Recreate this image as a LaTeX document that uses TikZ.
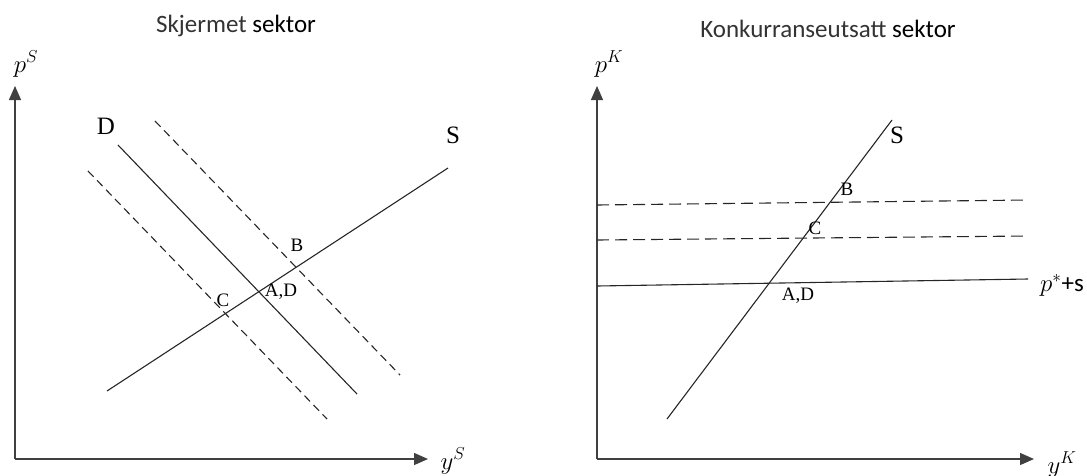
\documentclass[tikz,border=0pt]{standalone}
\usepackage{fontspec}
\setmainfont{Liberation Serif}
\newfontfamily\titlefont{Carlito}
\usetikzlibrary{arrows.meta,positioning}

\begin{document}
\begin{tikzpicture}[x=1pt,y=-1pt,
 axis/.style={line width=1.3pt,black!75,-{Triangle[length=14pt,width=12pt]}},
 curve/.style={line width=1.1pt,black!85},
 shifted/.style={curve,dash pattern=on 8pt off 5pt},
 shiftedK/.style={curve,dash pattern=on 12pt off 6pt},
 title/.style={font=\titlefont\fontsize{25}{28}\selectfont,text=black!80},
 lbl/.style={font=\fontsize{25}{28}\selectfont,inner sep=0pt},
 pt/.style={font=\fontsize{19}{22}\selectfont,inner sep=0pt}]
\useasboundingbox (0,0) rectangle (1087,475);

% Skjermet sektor
\node[title] (t1) at (236,26) {Skjermet \textcolor{black}{sektor}};
\coordinate (O1) at (15,459);
\coordinate (Y1) at (15,86);
\coordinate (X1) at (428,459);
\draw[axis] (O1) -- (Y1);
\draw[axis] (O1) -- (X1);
\node[lbl] (pS) at (26,64) {$p^{S}$};
\node[lbl] (yS) at (453,461) {$y^{S}$};

\coordinate (S1a) at (107,391);
\coordinate (S1b) at (448,168);
\coordinate (D1a) at (118,145);
\coordinate (D1b) at (357,394);
\coordinate (Du1a) at (155,121);
\coordinate (Du1b) at (400,375);
\coordinate (Dl1a) at (88,171);
\coordinate (Dl1b) at (327,419);
\draw[curve] (S1a) -- (S1b);
\draw[curve] (D1a) -- (D1b);
\draw[shifted] (Du1a) -- (Du1b);
\draw[shifted] (Dl1a) -- (Dl1b);
\node[lbl] (S1) at (453,135) {S};
\node[lbl] (D1) at (106,126) {D};
\node[pt] (B1) at (297,245) {B};
\node[pt] (AD1) at (281,292) {A,D};
\node[pt] (C1) at (223,300) {C};

% Konkurranseutsatt sektor
\node[title] (t2) at (828,29) {Konkurranseutsatt \textcolor{black}{sektor}};
\coordinate (O2) at (597,459);
\coordinate (Y2) at (597,86);
\coordinate (X2) at (1034,459);
\draw[axis] (O2) -- (Y2);
\draw[axis] (O2) -- (X2);
\node[lbl] (pK) at (609,64) {$p^{K}$};
\node[lbl] (yK) at (1062,465) {$y^{K}$};

\coordinate (S2a) at (667,419);
\coordinate (S2b) at (892,120);
\coordinate (W2a) at (597,286);
\coordinate (W2b) at (1028,279);
\coordinate (B2a) at (597,205);
\coordinate (B2b) at (1028,200);
\coordinate (C2a) at (597,240);
\coordinate (C2b) at (1028,236);
\draw[curve] (S2a) -- (S2b);
\draw[curve] (W2a) -- (W2b);
\draw[shiftedK] (B2a) -- (B2b);
\draw[shiftedK] (C2a) -- (C2b);
\node[lbl] (S2) at (897,135) {S};
\node[pt] (B2) at (847,189) {B};
\node[pt] (C2) at (815,228) {C};
\node[pt] (AD2) at (798,296) {A,D};
\node[lbl,anchor=west] (ps) at (1040,285) {$p^{*}${\titlefont +s}};
\end{tikzpicture}
\end{document}
